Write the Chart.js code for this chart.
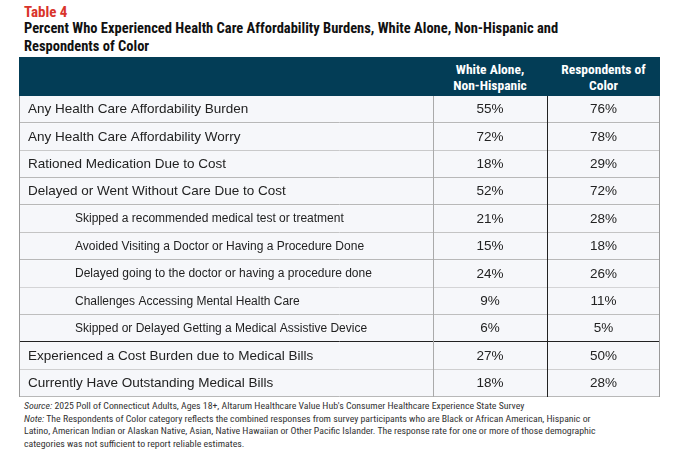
<!DOCTYPE html>
<html><head><meta charset="utf-8">
<script src="https://cdn.jsdelivr.net/npm/chart.js@4"></script>
<style>
body{margin:0;background:#fff;font-family:'Liberation Sans Narrow','Roboto Condensed','Liberation Sans',sans-serif;width:673px;height:455px;position:relative;overflow:hidden}
#t4{position:absolute;left:24px;top:3px;color:#d9342b;font-weight:bold;font-size:15px}
#ttl{position:absolute;left:24px;top:20px;width:640px;font-weight:bold;font-size:14.5px;line-height:18px;color:#111;white-space:nowrap}
#hdr{position:absolute;left:19px;top:57px;width:641px;height:39px;background:#033d56;color:#fff;font-weight:bold;font-size:13.5px;line-height:16px}
#hdr div{position:absolute;top:4px;text-align:center}
#wrap{position:absolute;left:19px;top:96px;width:641px;height:301px}
#src{position:absolute;left:24px;top:400px;width:645px;font-size:9.8px;line-height:12.5px;color:#333;white-space:nowrap}
</style></head><body>
<div id="t4">Table 4</div>
<div id="ttl">Percent Who Experienced Health Care Affordability Burdens, White Alone, Non-Hispanic and<br>Respondents of Color</div>
<div id="hdr"><div style="left:414px;width:114px">White Alone,<br>Non-Hispanic</div><div style="left:528px;width:113px">Respondents of<br>Color</div></div>
<div id="wrap"><canvas id="c"></canvas></div>
<div id="src"><i>Source:</i> 2025 Poll of Connecticut Adults, Ages 18+, Altarum Healthcare Value Hub's Consumer Healthcare Experience State Survey<br><i>Note:</i> The Respondents of Color category reflects the combined responses from survey participants who are Black or African American, Hispanic or<br>Latino, American Indian or Alaskan Native, Asian, Native Hawaiian or Other Pacific Islander. The response rate for one or more of those demographic<br>categories was not sufficient to report reliable estimates.</div>
<script>
const rowLabels = [
  'Any Health Care Affordability Burden',
  'Any Health Care Affordability Worry',
  'Rationed Medication Due to Cost',
  'Delayed or Went Without Care Due to Cost',
  'Skipped a recommended medical test or treatment',
  'Avoided Visiting a Doctor or Having a Procedure Done',
  'Delayed going to the doctor or having a procedure done',
  'Challenges Accessing Mental Health Care',
  'Skipped or Delayed Getting a Medical Assistive Device',
  'Experienced a Cost Burden due to Medical Bills',
  'Currently Have Outstanding Medical Bills'
];
const subRow = [false,false,false,false,true,true,true,true,true,false,false];
const whiteAlone = [55,72,18,52,21,15,24,9,6,27,18];
const ofColor = [76,78,29,72,28,18,26,11,5,50,28];

// column layout (x-scale units = px inside the table)
const colEdges = [0, 414, 528, 641];
const mid = i => (colEdges[i] + colEdges[i+1]) / 2;

const tablePlugin = {
  id: 'table',
  beforeDatasetsDraw(chart) {
    const {ctx, scales:{x, y}} = chart;
    const half = (y.getPixelForValue(1) - y.getPixelForValue(0)) / 2;
    ctx.save();
    rowLabels.forEach((lab, i) => {
      const cy = y.getPixelForValue(i);
      ctx.fillStyle = '#f6f7fa';
      ctx.fillRect(x.getPixelForValue(0), cy - half, x.getPixelForValue(641) - x.getPixelForValue(0), half * 2);
      ctx.strokeStyle = (i === 8) ? '#222' : '#b8b8b8';
      ctx.lineWidth = 1;
      ctx.beginPath();
      ctx.moveTo(x.getPixelForValue(0), Math.round(cy + half) - 0.5);
      ctx.lineTo(x.getPixelForValue(641), Math.round(cy + half) - 0.5);
      ctx.stroke();
      ctx.fillStyle = '#222';
      ctx.font = (subRow[i] ? '12px' : '13.5px') + " 'Liberation Sans Narrow','Liberation Sans',sans-serif";
      ctx.textBaseline = 'middle';
      ctx.textAlign = 'left';
      ctx.fillText(lab, x.getPixelForValue(subRow[i] ? 56 : 9), cy);
    });
    const top = y.getPixelForValue(0) - half, bot = y.getPixelForValue(rowLabels.length - 1) + half;
    [[0,'#999'],[414,'#aaa'],[528,'#222'],[641,'#999']].forEach(([v, c]) => {
      const px = Math.round(x.getPixelForValue(v)) + (v === 641 ? -0.5 : 0.5);
      ctx.strokeStyle = c;
      ctx.beginPath(); ctx.moveTo(px, top); ctx.lineTo(px, bot); ctx.stroke();
    });
    ctx.restore();
  },
  afterDatasetsDraw(chart) {
    const ctx = chart.ctx;
    ctx.save();
    ctx.fillStyle = '#222';
    ctx.font = "13.5px 'Liberation Sans Narrow','Liberation Sans',sans-serif";
    ctx.textAlign = 'center';
    ctx.textBaseline = 'middle';
    chart.data.datasets.forEach((ds, d) => {
      chart.getDatasetMeta(d).data.forEach((pt, i) => ctx.fillText(ds.values[i] + '%', pt.x, pt.y));
    });
    ctx.restore();
  }
};

new Chart(document.getElementById('c'), {
  type: 'scatter',
  data: {
    labels: rowLabels,
    datasets: [
      {label: 'White Alone, Non-Hispanic', values: whiteAlone, data: whiteAlone.map((v, i) => ({x: mid(1), y: i})), pointRadius: 0},
      {label: 'Respondents of Color', values: ofColor, data: ofColor.map((v, i) => ({x: mid(2), y: i})), pointRadius: 0}
    ]
  },
  options: {
    responsive: true, maintainAspectRatio: false, animation: false,
    layout: {padding: 0},
    plugins: {legend: {display: false}, tooltip: {enabled: false}},
    scales: {
      x: {type: 'linear', min: 0, max: 641, display: false},
      y: {type: 'linear', min: -0.5, max: rowLabels.length - 0.5, reverse: true, display: false}
    }
  },
  plugins: [tablePlugin]
});
</script>
</body></html>
